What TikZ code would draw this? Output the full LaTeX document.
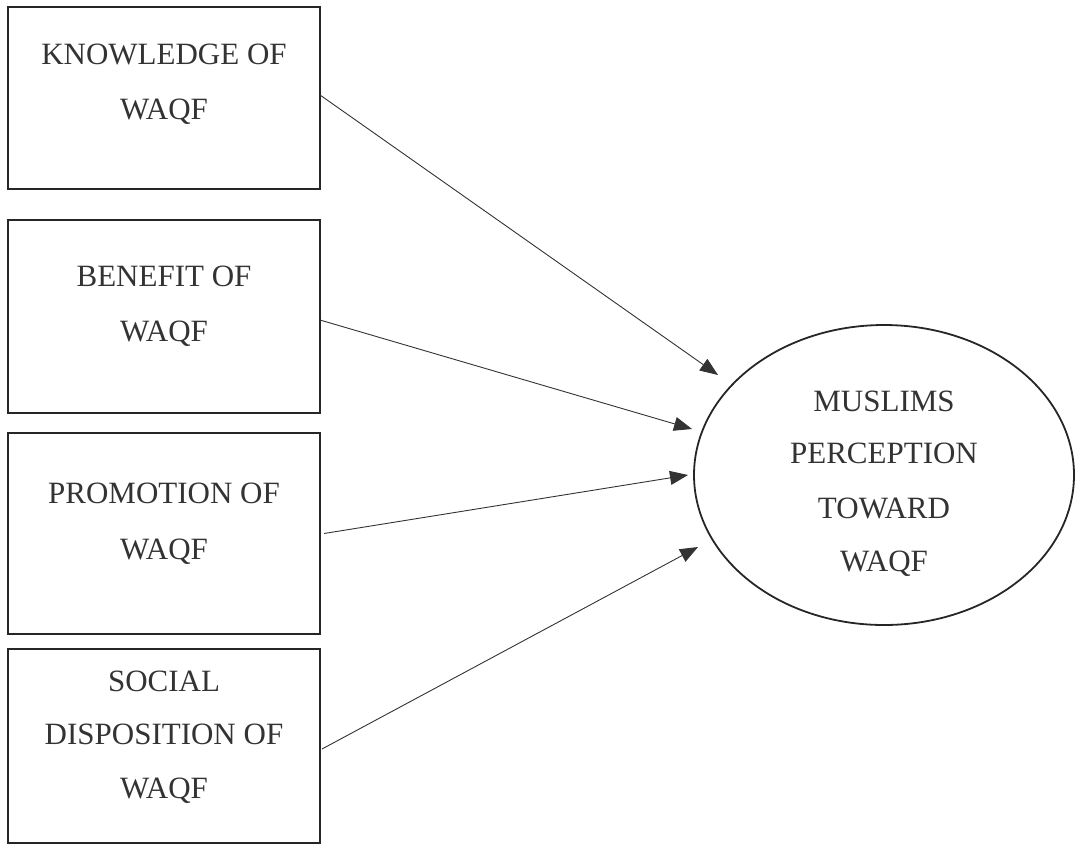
\documentclass[tikz,border=0pt]{standalone}
\usepackage{fontspec}
\setmainfont{Liberation Serif}
\usetikzlibrary{arrows.meta}
\begin{document}
\begin{tikzpicture}[x=1pt,y=-1pt,
  boxst/.style={draw=black!85, line width=1.8pt, minimum width=312pt, inner sep=0pt, outer sep=0pt},
  lbl/.style={font=\fontsize{31}{31}\selectfont, text=black!80, inner sep=0pt, anchor=base},
  arr/.style={draw=black!80, line width=0.9pt, -{Triangle[length=18pt,width=14pt]}}]
\useasboundingbox (0,0) rectangle (1075,844);
% boxes
\node[boxst, minimum height=182pt] (k) at (164,98) {};
\node[boxst, minimum height=193pt] (b) at (164,316.5) {};
\node[boxst, minimum height=201pt] (p) at (164,533.5) {};
\node[boxst, minimum height=194pt] (s) at (164,746) {};
% box texts (baselines)
\node[lbl] (k1) at (164,64) {KNOWLEDGE OF};
\node[lbl] (k2) at (164,119) {WAQF};
\node[lbl] (b1) at (164,286) {BENEFIT OF};
\node[lbl] (b2) at (164,341) {WAQF};
\node[lbl] (p1) at (164,503) {PROMOTION OF};
\node[lbl] (p2) at (164,559) {WAQF};
\node[lbl] (s1) at (164,691) {SOCIAL};
\node[lbl] (s2) at (164,744) {DISPOSITION OF};
\node[lbl] (s3) at (164,798) {WAQF};
% ellipse
\draw[black!85, line width=1.8pt] (884,475) ellipse [x radius=190pt, y radius=150pt];
\node[inner sep=0pt] (m) at (884,475) {};
\node[lbl] (m1) at (884,411) {MUSLIMS};
\node[lbl] (m2) at (884,463) {PERCEPTION};
\node[lbl] (m3) at (884,518) {TOWARD};
\node[lbl] (m4) at (884,571) {WAQF};
% arrow tips
\coordinate (t1) at (718,375);
\coordinate (t2) at (692,429);
\coordinate (t3) at (688,475);
\coordinate (t4) at (698,547);
\draw[arr] ([yshift=3pt]k.east) -- (t1);
\draw[arr] ([yshift=-3.5pt]b.east) -- (t2);
\draw[arr] ([xshift=4pt]p.east) -- (t3);
\draw[arr] ([xshift=2pt,yshift=-3pt]s.east) -- (t4);
\end{tikzpicture}
\end{document}
